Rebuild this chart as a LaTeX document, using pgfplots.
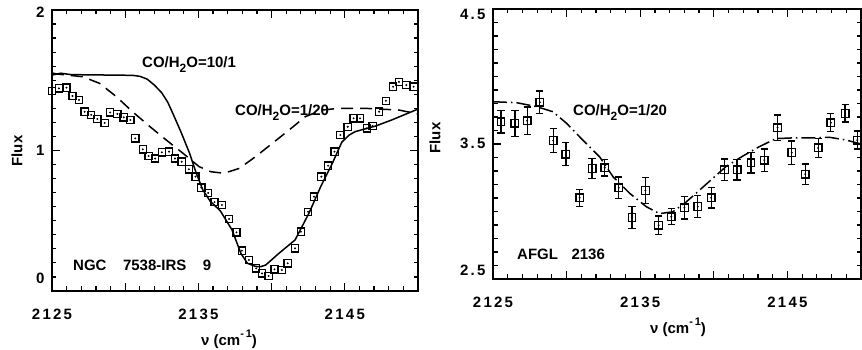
\documentclass[border=0pt]{standalone}
\usepackage{pgfplots}
\usepackage{pgfplotstable}
\pgfplotsset{compat=1.18}
\usepackage{fontspec}
\setmainfont{Liberation Sans}

\pgfplotstableread{
x y
2125.00 1.425
2125.47 1.442
2125.99 1.447
2126.40 1.388
2126.84 1.360
2127.23 1.276
2127.68 1.253
2128.10 1.224
2128.60 1.196
2128.97 1.271
2129.46 1.260
2129.90 1.236
2130.35 1.217
2130.69 1.086
2131.20 1.008
2131.60 0.961
2132.05 0.943
2132.50 0.987
2133.00 0.992
2133.40 0.943
2133.86 0.920
2134.35 0.866
2134.80 0.814
2135.20 0.736
2135.67 0.698
2136.10 0.633
2136.60 0.612
2137.10 0.512
2137.60 0.417
2137.97 0.287
2138.45 0.221
2138.95 0.161
2139.35 0.125
2139.80 0.107
2140.20 0.154
2140.70 0.150
2141.10 0.197
2141.60 0.304
2142.00 0.422
2142.50 0.564
2142.90 0.671
2143.40 0.814
2143.86 0.892
2144.30 0.992
2144.70 1.110
2145.20 1.169
2145.60 1.229
2146.04 1.229
2146.50 1.158
2146.90 1.175
2147.35 1.276
2147.80 1.354
2148.30 1.454
2148.70 1.489
2149.20 1.466
2149.70 1.454
}\leftobs

\pgfplotstableread{
x y
2125.00 1.537
2125.60 1.550
2126.30 1.540
2130.50 1.535
2131.00 1.528
2131.50 1.508
2132.00 1.465
2132.50 1.410
2132.90 1.345
2133.25 1.265
2133.80 1.134
2134.40 0.980
2134.85 0.840
2135.30 0.720
2135.80 0.640
2136.50 0.570
2137.30 0.434
2137.90 0.268
2138.35 0.197
2138.90 0.175
2139.25 0.173
2139.60 0.185
2140.50 0.268
2141.60 0.363
2142.55 0.553
2143.35 0.742
2144.15 0.909
2144.80 1.060
2145.30 1.110
2145.70 1.134
2147.10 1.174
2148.20 1.217
2150.00 1.295
}\leftsolid

\pgfplotstableread{
x y
2125.00 1.552
2125.30 1.545
2127.10 1.525
2128.25 1.478
2129.40 1.383
2130.50 1.276
2131.70 1.169
2132.80 1.075
2133.95 0.980
2135.05 0.885
2135.85 0.849
2136.75 0.838
2137.80 0.873
2138.90 0.956
2140.05 1.051
2141.20 1.146
2142.30 1.241
2143.45 1.288
2144.60 1.300
2146.40 1.300
2147.75 1.293
2148.70 1.288
2150.00 1.260
}\leftdash

\pgfplotstableread{
x y e
2125.54 3.665 0.084
2126.49 3.653 0.096
2127.32 3.672 0.102
2128.18 3.809 0.084
2129.09 3.525 0.090
2129.95 3.424 0.085
2130.89 3.102 0.063
2131.73 3.318 0.072
2132.59 3.324 0.062
2133.54 3.175 0.081
2134.44 2.955 0.080
2135.35 3.156 0.096
2136.25 2.898 0.068
2137.11 2.961 0.059
2138.00 3.028 0.084
2138.91 3.036 0.083
2139.82 3.102 0.075
2140.72 3.309 0.080
2141.58 3.309 0.076
2142.53 3.361 0.076
2143.43 3.381 0.083
2144.33 3.621 0.093
2145.30 3.436 0.086
2146.21 3.277 0.075
2147.09 3.471 0.071
2147.95 3.658 0.068
2148.92 3.727 0.065
2149.75 3.529 0.067
}\rightobs

\pgfplotstableread{
x y
2125.00 3.813
2126.60 3.806
2127.96 3.777
2129.07 3.739
2130.00 3.653
2131.10 3.529
2132.25 3.404
2133.15 3.258
2134.28 3.135
2135.41 3.036
2136.31 2.984
2137.22 2.998
2138.12 3.070
2139.70 3.223
2140.83 3.333
2141.96 3.410
2143.09 3.480
2144.22 3.540
2145.35 3.545
2146.93 3.545
2147.83 3.550
2148.96 3.530
2150.00 3.500
}\rightdash

\newcommand{\lab}{\fontsize{15bp}{17bp}\selectfont\bfseries}
\newcommand{\sub}[1]{\raisebox{-0.3em}{\fontsize{12bp}{12bp}\selectfont #1}}

\pgfplotsset{
  panel/.style={
    scale only axis, anchor=south west,
    axis line style={line width=1.4bp},
    tick style={line width=1.2bp, black},
    tick align=inside, tick pos=both,
    xticklabel pos=lower, yticklabel pos=left,
    major tick length=8bp, minor tick length=4.5bp,
    minor x tick num=4, minor y tick num=9,
    xmin=2125, xmax=2150,
    xtick={2125,2130,...,2150},
    xticklabels={2125,,2135,,2145,},
    /pgf/number format/assume math mode=true,
    ticklabel style={font=\fontsize{15bp}{17bp}\selectfont\bfseries\addfontfeature{LetterSpace=15}},
    xticklabel style={yshift=-15bp},
    yticklabel style={xshift=-4bp, anchor=east},
    clip=false,
  },
  obs/.style={only marks, mark=square, mark size=3.8bp,
    mark options={line width=1.3bp, fill=white, black}},
  dot/.style={only marks, mark=*, mark size=0.75bp, mark options={black}},
}

\begin{document}
\begin{tikzpicture}
\useasboundingbox (0,0) rectangle (862bp,350bp);

\begin{axis}[panel, at={(52bp,59bp)}, width=366bp, height=281bp,
  ymin=0, ymax=2, ytick={0,1,2},
  yticklabels={\smash{\raisebox{8bp}{0}},\smash{\raisebox{-5bp}{1}},\smash{\raisebox{-8bp}{2}}}]
\addplot[black, line width=1.5bp] table {\leftsolid};
\addplot[black, line width=1.5bp, dash pattern=on 12bp off 7bp] table {\leftdash};
\addplot[obs, mark size=3.6bp] table {\leftobs};
\addplot[dot] table {\leftobs};
\end{axis}

\begin{axis}[panel, at={(493bp,71bp)}, width=368bp, height=270bp,
  ymin=2.5, ymax=4.5, ytick={2.5,3.5,4.5},
  yticklabels={\smash{\raisebox{4bp}{2.5}},\smash{\raisebox{-5bp}{3.5}},\smash{\raisebox{-11bp}{4.5}}}]
\addplot[black, line width=1.5bp, dash pattern=on 14bp off 4bp on 1.5bp off 4bp] table {\rightdash};
\addplot[obs, error bars/.cd, y dir=both, y explicit,
  error bar style={line width=1.3bp, black},
  error mark options={rotate=90, mark size=3.6bp, line width=1.3bp, black}]
  table[y error=e] {\rightobs};
\addplot[dot] table {\rightobs};
\end{axis}

% axis titles
\node[rotate=90, font=\lab] at (17bp,199bp) {Flux};
\node[rotate=90, font=\lab] at (435bp,212bp) {Flux};
\node[font=\lab] at (229bp,11bp) {ν (cm\raisebox{0.55em}{\fontsize{11bp}{11bp}\selectfont -\,1})};
\node[font=\lab] at (678bp,23bp) {ν (cm\raisebox{0.55em}{\fontsize{11bp}{11bp}\selectfont -\,1})};

% in-plot labels
\node[font=\lab, anchor=base west, inner sep=0pt] at (142bp,282bp) {CO/H\sub{2}O=10/1};
\node[font=\lab, anchor=base west, inner sep=0pt] at (235bp,234bp) {CO/H\sub{2}O=1/20};
\node[font=\lab, anchor=base west, inner sep=0pt] at (73bp,79bp) {NGC\hspace{1.1em}7538-IRS\hspace{1.1em}9};
\node[font=\lab, anchor=base west, inner sep=0pt] at (573bp,234bp) {CO/H\sub{2}O=1/20};
\node[font=\lab, anchor=base west, inner sep=0pt] at (517bp,90bp) {AFGL\hspace{0.9em}2136};
\end{tikzpicture}
\end{document}
